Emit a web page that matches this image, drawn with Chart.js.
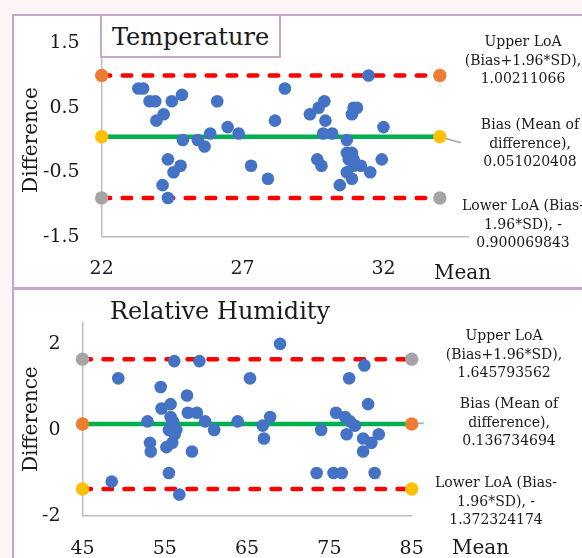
<!DOCTYPE html>
<html>
<head>
<meta charset="utf-8">
<script src="https://cdn.jsdelivr.net/npm/chart.js@4.4.0/dist/chart.umd.min.js"></script>
<style>
  body { margin: 0; width: 582px; height: 558px; overflow: hidden; position: relative;
         background: #fcf4f7; font-family: "DejaVu Serif", serif; color: #1a1a1a; }
  .panel { position: absolute; left: 12px; width: 620px; background: #fff;
           border: 2px solid #c7a7c9; box-sizing: border-box; }
  #p1 { top: 14px; height: 275px; }
  #p2 { top: 288px; height: 300px; }
  canvas { position: absolute; left: 0; }
  #c1 { top: 0; }
  #c2 { top: 289px; }
  .title { position: absolute; font-size: 24px; text-align: center; white-space: nowrap; }
  #t1 { left: 100px; top: 14px; width: 181px; height: 44px; line-height: 42px; box-sizing: border-box;
        border: 2px solid #c7a7c9; background: #fff; }
  #t2 { left: 90px; top: 296px; width: 260px; line-height: 30px; }
  .note { position: absolute; width: 150px; font-size: 14px; line-height: 18.5px; text-align: center; white-space: nowrap; }
  .mean { position: absolute; font-size: 20px; line-height: 24px; }
</style>
</head>
<body>
<div class="panel" id="p1"></div>
<div class="panel" id="p2"></div>
<canvas id="c1" width="582" height="289"></canvas>
<canvas id="c2" width="582" height="269"></canvas>
<div class="title" id="t1">Temperature</div>
<div class="title" id="t2">Relative Humidity</div>
<div class="mean" style="left:434px;top:260px">Mean</div>
<div class="mean" style="left:452px;top:535px">Mean</div>
<div class="note" id="n1u" style="left:448px;top:32px"></div>
<div class="note" id="n1b" style="left:455px;top:115px"></div>
<div class="note" id="n1l" style="left:448px;top:196px"></div>
<div class="note" id="n2u" style="left:429px;top:326px"></div>
<div class="note" id="n2b" style="left:434px;top:394px"></div>
<div class="note" id="n2l" style="left:421px;top:473px"></div>
<script>
// temperature: mean of the two readings and their difference
const tempMean = [23.3, 23.47, 23.7, 23.9, 24.49, 24.85, 26.1, 24.2, 23.94, 24.88, 25.41, 25.65, 25.85, 26.47,
  24.35, 24.8, 24.55, 24.16, 24.35, 26.86, 28.5, 28.15, 27.3, 27.9, 29.39, 29.7, 29.9, 29.94, 29.86, 30.18,
  29.65, 29.8, 30.45, 30.7, 31.47, 30.94, 31.06, 30.88, 32.0, 30.7, 30.88, 30.77, 30.94, 31.2, 31.53, 31.94,
  30.7, 30.88, 30.94];
const tempDiff = [0.8, 0.8, 0.6, 0.6, 0.6, 0.7, 0.6, 0.4, 0.3, 0.0, 0.0, -0.1, 0.1, 0.2,
  -0.3, -0.4, -0.5, -0.7, -0.9, 0.1, 0.8, 0.3, -0.4, -0.6, 0.4, 0.5, 0.6, 0.3, 0.1, 0.1,
  -0.3, -0.4, -0.7, 0.0, 1.0, 0.5, 0.5, 0.4, 0.2, -0.2, -0.2, -0.3, -0.3, -0.4, -0.5, -0.3,
  -0.5, -0.6, -0.4];
const tempLimits = [1.00211066, 0.051020408, -0.900069843]; // upper, bias, lower
const tempLimitX = [22, 34];
const tempXTicks = [22, 27, 32];
const tempYTicks = [-1.5, -0.5, 0.5, 1.5];

// relative humidity
const humidMean = [48.55, 49.35, 52.9, 53.2, 53.3, 54.5, 54.6, 55.7, 55.5, 56.15, 56.76, 57.7, 57.8, 58.9,
  59.2, 59.9, 61.0, 58.3, 55.2, 55.7, 56.0, 55.9, 55.5, 56.2, 55.9, 63.86, 65.35, 66.9, 67.8, 67.05, 69.0,
  73.45, 74.0, 75.5, 76.5, 75.8, 76.9, 77.5, 78.1, 77.1, 77.4, 79.25, 79.7, 79.1, 80.1, 81.0, 79.1, 80.5, 56.4];
const humidDiff = [-1.2, 1.2, 0.2, -0.3, -0.5, 1.0, 0.5, 0.6, -1.0, 1.6, -1.5, 0.8, 0.4, 0.4,
  1.6, 0.2, 0.0, -0.5, -0.4, 0.3, 0.2, 0.1, 0.0, -0.1, -0.3, 0.2, 1.2, 0.1, 0.3, -0.2, 2.0,
  -1.0, 0.0, -1.0, -1.0, 0.4, 0.3, 0.2, 0.1, -0.1, 1.2, 1.5, 0.6, -0.2, -0.3, -0.1, -0.5, -1.0, 0.0];
const humidLimits = [1.645793562, 0.136734694, -1.372324174];
const humidLimitX = [45, 85];
const humidXTicks = [45, 55, 65, 75, 85];
const humidYTicks = [-2, 0, 2];

const blue = '#4472C4', orange = '#ED7D31', gold = '#FFC000', grey = '#A5A5A5';
const red = '#FF0000', green = '#00B050', axisGrey = '#BFBFBF', ink = '#1a1a1a';
const tickFont = { family: 'DejaVu Serif', size: 19 };

function limitSet(xs, y, dot, line, dash) {
  return {
    type: 'scatter',
    showLine: true,
    clip: false,
    data: xs.map(x => ({ x: x, y: y })),
    borderColor: line,
    borderWidth: 4.5,
    borderDash: dash,
    borderCapStyle: dash.length ? 'round' : 'butt',
    pointRadius: 6.7,
    pointHoverRadius: 6.7,
    pointBackgroundColor: dot,
    pointBorderWidth: 0
  };
}

// little grey leader line off the bias marker
const leader = {
  id: 'leader',
  beforeDatasetsDraw(chart, args, opts) {
    const ctx = chart.ctx;
    const x = chart.scales.x.getPixelForValue(opts.x);
    const y = chart.scales.y.getPixelForValue(opts.y);
    ctx.save();
    ctx.strokeStyle = '#A6A6A6';
    ctx.lineWidth = 1.5;
    ctx.beginPath();
    ctx.moveTo(x, y);
    ctx.lineTo(x + opts.dx, y + opts.dy);
    ctx.stroke();
    ctx.restore();
  }
};

function makeChart(id, s) {
  const pts = s.mean.map((m, i) => ({ x: m, y: s.diff[i] }));
  const dash = [8.5, 12.5];
  return new Chart(document.getElementById(id), {
    type: 'scatter',
    data: {
      datasets: [
        { data: pts, backgroundColor: blue, pointRadius: 6.3, pointHoverRadius: 6.3, pointBorderWidth: 0, clip: false },
        limitSet(s.limX, s.lim[0], s.dots[0], red, dash),
        limitSet(s.limX, s.lim[1], s.dots[1], green, []),
        limitSet(s.limX, s.lim[2], s.dots[2], red, dash)
      ]
    },
    options: {
      responsive: false,
      animation: false,
      devicePixelRatio: 1,
      layout: { padding: s.pad },
      plugins: {
        legend: { display: false },
        tooltip: { enabled: false },
        leader: { x: s.limX[1], y: s.lim[1], dx: s.lead[0], dy: s.lead[1] }
      },
      scales: {
        x: {
          type: 'linear', min: s.xMin, max: s.xMax,
          afterBuildTicks: sc => { sc.ticks = s.xTicks.map(v => ({ value: v })); },
          afterFit: sc => { sc.height = s.xH; },
          grid: { display: false, drawTicks: false },
          border: { display: true, color: axisGrey, width: 1.5 },
          ticks: { autoSkip: false, maxRotation: 0, padding: s.xPad, font: tickFont, color: ink }
        },
        y: {
          type: 'linear', min: s.yMin, max: s.yMax,
          afterBuildTicks: sc => { sc.ticks = s.yTicks.map(v => ({ value: v })); },
          afterFit: sc => { sc.width = s.yW; },
          grid: { display: false, drawTicks: false },
          border: { display: true, color: axisGrey, width: 1.5 },
          ticks: { padding: 22, font: tickFont, color: ink },
          title: { display: true, text: 'Difference', color: ink,
                   font: { family: 'DejaVu Serif', size: 20 }, padding: { top: 19.7, bottom: 0 } }
        }
      }
    },
    plugins: [leader]
  });
}

makeChart('c1', {
  mean: tempMean, diff: tempDiff, lim: tempLimits, limX: tempLimitX,
  dots: [orange, gold, grey], lead: [21, 6],
  xMin: 22, xMax: 35, yMin: -1.5, yMax: 1.5, xTicks: tempXTicks, yTicks: tempYTicks,
  pad: { left: 0, top: 43.3, right: 114, bottom: 0 }, xH: 52.3, yW: 101.7, xPad: 21
});

makeChart('c2', {
  mean: humidMean, diff: humidDiff, lim: humidLimits, limX: humidLimitX,
  dots: [grey, orange, gold], lead: [12, -1],
  xMin: 45, xMax: 85, yMin: -2, yMax: 2.5, xTicks: humidXTicks, yTicks: humidYTicks,
  pad: { left: 0, top: 30.8, right: 170.3, bottom: 0 }, xH: 42, yW: 82.5, xPad: 22
});

function noteText(kind, v) {
  const s = String(Math.abs(v));
  if (kind === 'u') return 'Upper LoA<br>(Bias+1.96*SD),<br>' + s;
  if (kind === 'b') return 'Bias (Mean of<br>difference),<br>' + s;
  return 'Lower LoA (Bias-<br>1.96*SD), -<br>' + s;
}
['u', 'b', 'l'].forEach((k, i) => {
  document.getElementById('n1' + k).innerHTML = noteText(k, tempLimits[i]);
  document.getElementById('n2' + k).innerHTML = noteText(k, humidLimits[i]);
});
</script>
</body>
</html>
